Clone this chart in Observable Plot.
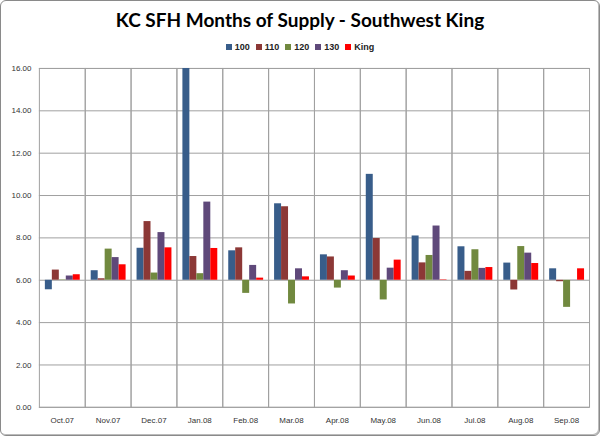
<!DOCTYPE html>
<html>
<head>
<meta charset="utf-8">
<script src="https://cdn.jsdelivr.net/npm/d3@7"></script>
<script src="https://cdn.jsdelivr.net/npm/@observablehq/plot@0.6"></script>
<style>
  html, body { margin: 0; padding: 0; background: #fff; }
  #wrap { box-sizing: border-box; width: 600px; height: 436px; border: 1px solid #8a8a8a; border-radius: 6px; background: #fff; position: relative; overflow: hidden; box-shadow: inset -1px -1px 0 #bbb; }
  #title { position: absolute; top: 7px; left: 0; width: 100%; text-align: center; font-family: Lato, "Open Sans", sans-serif; font-weight: bold; font-size: 19px; color: #000; }
  #legend { position: absolute; top: 41px; left: 0; width: 100%; text-align: center; font-family: "Liberation Sans", Arial, sans-serif; font-weight: bold; font-size: 9px; color: #222; }
  #legend span.item { margin: 0 3px; white-space: nowrap; }
  #legend span.sw { display: inline-block; width: 6px; height: 6px; margin-right: 3px; vertical-align: 0px; }
  #chart { position: absolute; top: 55px; left: 0; }
</style>
</head>
<body>
<div id="wrap">
  <div id="title">KC SFH Months of Supply - Southwest King</div>
  <div id="legend"></div>
  <div id="chart"></div>
</div>
<script>
const months = ["Oct.07","Nov.07","Dec.07","Jan.08","Feb.08","Mar.08","Apr.08","May.08","Jun.08","Jul.08","Aug.08","Sep.08"];
const series = ["100","110","120","130","King"];
const colors = ["#385D8A","#8C3836","#71893F","#5F497A","#FF0000"];
const v100  = [5.55, 6.45, 7.51, 16.0, 7.39, 9.61, 7.20, 11.00, 8.09, 7.58, 6.81, 6.54];
const v110  = [6.48, 6.07, 8.77, 7.12, 7.53, 9.47, 7.10, 7.97, 6.82, 6.42, 5.54, 5.93];
const v120  = [6.02, 7.47, 6.34, 6.31, 5.38, 4.88, 5.63, 5.07, 7.17, 7.44, 7.59, 4.72];
const v130  = [6.20, 7.07, 8.25, 9.69, 6.70, 6.54, 6.45, 6.57, 8.56, 6.56, 7.28, 6.01];
const vKing = [6.26, 6.73, 7.53, 7.50, 6.10, 6.16, 6.20, 6.95, 6.02, 6.60, 6.79, 6.54];
const axisCross = 6;
const yTicks = [0, 2, 4, 6, 8, 10, 12, 14, 16];

const seriesValues = [v100, v110, v120, v130, vKing];
const data = [];
months.forEach((m, i) => {
  series.forEach((s, j) => {
    data.push({month: m, series: s, value: seriesValues[j][i]});
  });
});

// legend
const legend = document.getElementById("legend");
series.forEach((s, j) => {
  const item = document.createElement("span");
  item.className = "item";
  const sw = document.createElement("span");
  sw.className = "sw";
  sw.style.background = colors[j];
  item.appendChild(sw);
  item.appendChild(document.createTextNode(s));
  legend.appendChild(item);
});

const grid = "#a0a0a0";
const chart = Plot.plot({
  width: 600,
  height: 381,
  marginTop: 12,
  marginBottom: 29,
  marginLeft: 38,
  marginRight: 10,
  style: {fontFamily: "'Liberation Sans', Arial, sans-serif", fontSize: "8px", color: "#333", background: "transparent"},
  fx: {domain: months, padding: 0, label: null},
  x: {domain: series, paddingInner: 0, paddingOuter: 0.65, axis: null},
  y: {domain: [0, 16]},
  color: {domain: series, range: colors},
  marks: [
    Plot.ruleY(yTicks, {stroke: grid, strokeWidth: 1}),
    Plot.frame({stroke: grid, strokeWidth: 1}),
    Plot.barY(data, {fx: "month", x: "series", y1: axisCross, y2: "value", fill: "series", clip: true}),
    Plot.axisY(yTicks, {tickFormat: d => d.toFixed(2), tickSize: 0, tickPadding: 8, label: null}),
    Plot.axisFx({anchor: "bottom", tickSize: 0, tickPadding: 10, label: null})
  ]
});
document.getElementById("chart").appendChild(chart);
</script>
</body>
</html>
